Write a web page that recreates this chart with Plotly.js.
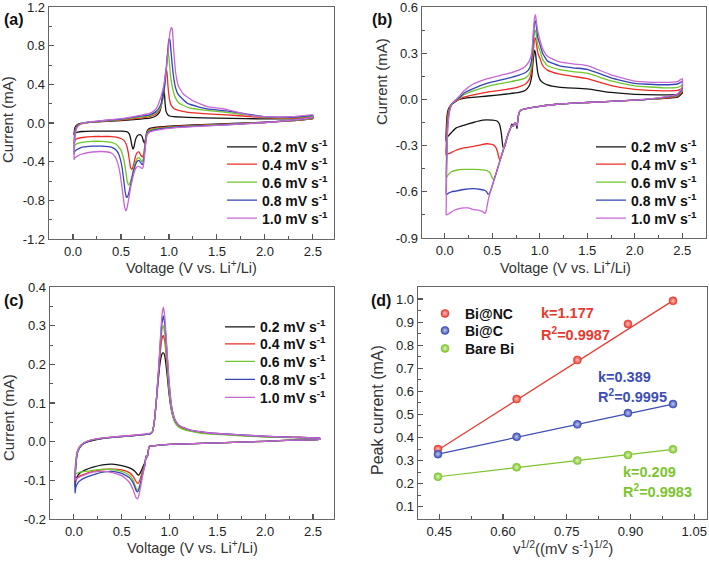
<!DOCTYPE html>
<html>
<head>
<meta charset="utf-8">
<script src="https://cdn.plot.ly/plotly-3.0.1.min.js"></script>
<style>html,body{margin:0;padding:0;background:#fff;}#chart{width:709px;height:561px;}</style>
</head>
<body>
<div id="chart"></div>
<script>
// ---------- common ----------
const rates = ['0.2', '0.4', '0.6', '0.8', '1.0'];
const rateColors = ['#141414', '#ee2b25', '#6fc62c', '#3545b6', '#c866d4'];

// ---------- panel (a) Bi@NC : cathodic (c) and anodic (a) sweeps ----------
const a02_cV = [2.5,2.3,2.0,1.6,1.2,1.0,0.85,0.79,0.77,0.755,0.745,0.735,0.72,0.70,0.68,0.66,0.645,0.635,0.625,0.615,0.60,0.585,0.56,0.5,0.4,0.3,0.2,0.1,0.05,0.02,0.01];
const a02_cI = [0.045,0.025,0.008,-0.008,-0.022,-0.032,-0.045,-0.06,-0.09,-0.17,-0.21,-0.19,-0.14,-0.12,-0.125,-0.15,-0.2,-0.25,-0.27,-0.24,-0.16,-0.11,-0.09,-0.085,-0.085,-0.085,-0.085,-0.088,-0.095,-0.105,-0.12];
const a02_aV = [0.012,0.02,0.04,0.08,0.15,0.3,0.5,0.7,0.8,0.86,0.9,0.92,0.935,0.945,0.952,0.96,0.97,0.985,1.0,1.05,1.2,1.5,1.8,2.1,2.4,2.5];
const a02_aI = [-0.1,-0.05,-0.02,-0.005,0.005,0.015,0.025,0.04,0.05,0.07,0.11,0.18,0.3,0.36,0.32,0.2,0.12,0.09,0.075,0.065,0.058,0.05,0.045,0.042,0.045,0.055];

const a04_cV = [2.5,2.3,2.0,1.6,1.2,1.0,0.85,0.79,0.77,0.755,0.74,0.73,0.72,0.705,0.69,0.675,0.66,0.645,0.63,0.615,0.6,0.59,0.575,0.555,0.53,0.5,0.45,0.4,0.3,0.2,0.1,0.05,0.02,0.01];
const a04_cI = [0.045,0.025,0.005,-0.012,-0.028,-0.04,-0.055,-0.07,-0.1,-0.18,-0.3,-0.34,-0.35,-0.33,-0.3,-0.3,-0.32,-0.37,-0.44,-0.48,-0.46,-0.4,-0.3,-0.22,-0.18,-0.16,-0.145,-0.14,-0.14,-0.14,-0.15,-0.16,-0.18,-0.21];
const a04_aV = [0.012,0.02,0.04,0.08,0.15,0.3,0.5,0.7,0.8,0.86,0.9,0.925,0.945,0.96,0.97,0.98,0.99,1.005,1.02,1.05,1.1,1.2,1.4,1.6,1.8,2.0,2.3,2.5];
const a04_aI = [-0.18,-0.08,-0.03,-0.01,0.005,0.018,0.03,0.05,0.065,0.09,0.13,0.2,0.33,0.48,0.56,0.52,0.38,0.25,0.19,0.15,0.13,0.11,0.095,0.085,0.07,0.055,0.05,0.06];

const a06_cV = [2.5,2.3,2.0,1.6,1.2,1.0,0.85,0.79,0.77,0.755,0.74,0.73,0.72,0.705,0.69,0.675,0.66,0.645,0.63,0.615,0.6,0.59,0.578,0.565,0.55,0.53,0.5,0.45,0.4,0.3,0.2,0.1,0.05,0.02,0.01];
const a06_cI = [0.05,0.028,0.005,-0.015,-0.032,-0.045,-0.062,-0.08,-0.11,-0.2,-0.33,-0.38,-0.4,-0.38,-0.36,-0.36,-0.38,-0.42,-0.48,-0.55,-0.6,-0.63,-0.64,-0.6,-0.5,-0.38,-0.28,-0.22,-0.2,-0.19,-0.19,-0.2,-0.21,-0.23,-0.26];
const a06_aV = [0.012,0.02,0.04,0.08,0.15,0.3,0.5,0.7,0.8,0.86,0.9,0.93,0.955,0.97,0.98,0.99,1.0,1.015,1.03,1.06,1.1,1.2,1.4,1.6,1.8,2.0,2.3,2.5];
const a06_aI = [-0.23,-0.1,-0.035,-0.01,0.005,0.02,0.035,0.06,0.075,0.1,0.14,0.22,0.38,0.55,0.68,0.73,0.68,0.5,0.4,0.28,0.21,0.16,0.13,0.11,0.085,0.06,0.055,0.07];

const a08_cV = [2.5,2.3,2.0,1.6,1.2,1.0,0.85,0.79,0.77,0.755,0.74,0.73,0.72,0.705,0.69,0.675,0.66,0.645,0.63,0.615,0.6,0.585,0.57,0.558,0.545,0.53,0.51,0.48,0.45,0.4,0.3,0.2,0.1,0.05,0.02,0.01];
const a08_cI = [0.055,0.03,0.005,-0.018,-0.036,-0.05,-0.07,-0.09,-0.12,-0.22,-0.36,-0.42,-0.43,-0.41,-0.39,-0.39,-0.41,-0.45,-0.5,-0.57,-0.64,-0.71,-0.76,-0.77,-0.72,-0.6,-0.45,-0.33,-0.28,-0.25,-0.24,-0.24,-0.25,-0.27,-0.29,-0.32];
const a08_aV = [0.012,0.02,0.04,0.08,0.15,0.3,0.5,0.7,0.8,0.86,0.9,0.93,0.955,0.975,0.99,1.0,1.01,1.025,1.045,1.07,1.1,1.2,1.4,1.6,1.8,2.0,2.3,2.5];
const a08_aI = [-0.28,-0.12,-0.04,-0.01,0.008,0.022,0.04,0.07,0.085,0.115,0.16,0.24,0.38,0.58,0.78,0.87,0.86,0.7,0.5,0.36,0.29,0.2,0.145,0.125,0.095,0.065,0.06,0.075];

const a10_cV = [2.5,2.3,2.0,1.6,1.2,1.0,0.85,0.79,0.77,0.755,0.74,0.73,0.72,0.705,0.69,0.675,0.66,0.645,0.63,0.615,0.6,0.585,0.565,0.552,0.54,0.525,0.51,0.49,0.465,0.44,0.4,0.3,0.2,0.1,0.05,0.02,0.01];
const a10_cI = [0.06,0.032,0.005,-0.02,-0.04,-0.055,-0.08,-0.1,-0.13,-0.24,-0.39,-0.46,-0.47,-0.46,-0.45,-0.45,-0.46,-0.49,-0.54,-0.6,-0.67,-0.76,-0.87,-0.91,-0.88,-0.78,-0.66,-0.52,-0.41,-0.35,-0.31,-0.295,-0.3,-0.32,-0.34,-0.36,-0.38];
const a10_aV = [0.012,0.02,0.04,0.08,0.15,0.3,0.5,0.7,0.8,0.86,0.9,0.94,0.97,0.995,1.01,1.025,1.035,1.05,1.07,1.1,1.15,1.25,1.4,1.55,1.7,1.85,2.0,2.3,2.5];
const a10_aI = [-0.34,-0.14,-0.05,-0.01,0.01,0.025,0.045,0.08,0.1,0.14,0.22,0.36,0.55,0.78,0.93,0.99,0.97,0.75,0.52,0.38,0.3,0.23,0.17,0.15,0.115,0.08,0.065,0.065,0.085];

// ---------- panel (b) Bi@C ----------
const b_cHeadV = [2.5,2.45,2.2,2.0,1.5,1.2,1.0,0.9,0.8,0.78,0.77,0.76,0.75,0.735,0.72,0.705,0.69,0.67,0.65];
const b02_cI0 = [0.04,0.015,0.003,-0.005,-0.02,-0.03,-0.045,-0.055,-0.07,-0.09,-0.13,-0.19,-0.16,-0.155,-0.17,-0.16,-0.19,-0.22,-0.26];
const b02_cV = [0.635,0.62,0.61,0.595,0.575,0.55,0.5,0.4,0.3,0.2,0.12,0.07,0.04,0.02,0.012];
const b02_cI = [-0.3,-0.32,-0.3,-0.22,-0.16,-0.14,-0.135,-0.135,-0.15,-0.168,-0.185,-0.215,-0.235,-0.25,-0.27];
const b02_aV = [0.015,0.025,0.04,0.07,0.1,0.15,0.25,0.45,0.65,0.78,0.85,0.89,0.915,0.93,0.945,0.955,0.965,0.98,1.0,1.03,1.08,1.2,1.5,1.75,2.0,2.3,2.45,2.5];
const b02_aI = [-0.2,-0.1,-0.06,-0.035,-0.02,0.0,0.012,0.022,0.035,0.045,0.06,0.09,0.15,0.25,0.32,0.3,0.24,0.17,0.13,0.11,0.095,0.08,0.068,0.045,0.033,0.03,0.033,0.045];

const b_aV = [0.015,0.02,0.03,0.05,0.08,0.12,0.15,0.2,0.3,0.45,0.65,0.78,0.85,0.89,0.915,0.93,0.945,0.955,0.965,0.98,1.0,1.03,1.08,1.2,1.35,1.5,1.75,2.0,2.3,2.45,2.5];

const b04_cI0 = [0.05,0.02,0.003,-0.005,-0.02,-0.03,-0.045,-0.055,-0.07,-0.09,-0.13,-0.17,-0.16,-0.155,-0.175,-0.17,-0.19,-0.22,-0.26];
const b04_cV = [0.63,0.61,0.595,0.582,0.57,0.555,0.535,0.51,0.48,0.44,0.38,0.3,0.2,0.1,0.05,0.025,0.012];
const b04_cI = [-0.3,-0.34,-0.37,-0.395,-0.38,-0.34,-0.31,-0.295,-0.29,-0.288,-0.295,-0.305,-0.315,-0.335,-0.35,-0.355,-0.36];
const b04_aI = [-0.3,-0.2,-0.1,-0.05,-0.025,-0.008,0.0,0.015,0.03,0.047,0.065,0.082,0.1,0.13,0.19,0.3,0.39,0.4,0.36,0.3,0.27,0.22,0.19,0.165,0.15,0.135,0.09,0.065,0.055,0.058,0.07];

const b06_cI0 = [0.06,0.025,0.004,-0.005,-0.02,-0.03,-0.045,-0.055,-0.07,-0.09,-0.13,-0.17,-0.16,-0.155,-0.175,-0.17,-0.19,-0.22,-0.26];
const b06_cV = [0.63,0.61,0.59,0.57,0.55,0.53,0.515,0.5,0.48,0.45,0.4,0.3,0.2,0.12,0.07,0.035,0.015];
const b06_cI = [-0.3,-0.34,-0.38,-0.42,-0.46,-0.5,-0.52,-0.51,-0.48,-0.465,-0.458,-0.455,-0.455,-0.46,-0.47,-0.49,-0.51];
const b06_aI = [-0.45,-0.3,-0.15,-0.06,-0.025,-0.005,0.005,0.03,0.055,0.085,0.11,0.126,0.14,0.165,0.22,0.34,0.44,0.45,0.41,0.35,0.32,0.26,0.22,0.195,0.18,0.17,0.12,0.088,0.075,0.078,0.09];

const b08_cI0 = [0.07,0.03,0.005,-0.005,-0.02,-0.03,-0.045,-0.055,-0.07,-0.09,-0.13,-0.17,-0.16,-0.155,-0.175,-0.17,-0.19,-0.22,-0.26];
const b08_cV = [0.63,0.61,0.59,0.57,0.55,0.53,0.51,0.49,0.47,0.455,0.44,0.42,0.38,0.3,0.2,0.12,0.07,0.035,0.015];
const b08_cI = [-0.3,-0.34,-0.38,-0.42,-0.46,-0.5,-0.54,-0.58,-0.61,-0.615,-0.6,-0.59,-0.585,-0.58,-0.585,-0.595,-0.6,-0.61,-0.62];
const b08_aI = [-0.55,-0.38,-0.18,-0.07,-0.025,-0.003,0.01,0.04,0.07,0.105,0.135,0.158,0.175,0.2,0.26,0.38,0.5,0.51,0.47,0.4,0.36,0.3,0.25,0.22,0.205,0.195,0.14,0.104,0.095,0.1,0.115];

const b10_cI0 = [0.08,0.035,0.006,-0.005,-0.02,-0.03,-0.045,-0.055,-0.07,-0.09,-0.13,-0.17,-0.16,-0.155,-0.175,-0.17,-0.19,-0.22,-0.26];
const b10_cV = [0.63,0.61,0.59,0.57,0.55,0.53,0.51,0.49,0.47,0.455,0.44,0.43,0.42,0.41,0.39,0.36,0.3,0.25,0.2,0.15,0.1,0.06,0.035,0.015];
const b10_cI = [-0.3,-0.34,-0.38,-0.42,-0.46,-0.5,-0.54,-0.58,-0.62,-0.66,-0.71,-0.735,-0.74,-0.735,-0.725,-0.72,-0.715,-0.705,-0.705,-0.71,-0.72,-0.735,-0.745,-0.75];
const b10_aI = [-0.7,-0.45,-0.2,-0.08,-0.025,0.0,0.02,0.055,0.1,0.135,0.165,0.19,0.215,0.25,0.3,0.42,0.53,0.55,0.5,0.44,0.39,0.33,0.28,0.245,0.23,0.22,0.16,0.118,0.11,0.115,0.135];

// ---------- panel (c) Bare Bi ----------
const c_cHeadV = [2.57,2.3,2.0,1.5,1.0,0.85,0.79,0.78,0.772,0.765,0.758,0.75];
const c_cHeadI = [0.006,0.004,0.001,-0.003,-0.007,-0.01,-0.012,-0.02,-0.035,-0.04,-0.036,-0.045];
const c_cV = [0.74,0.725,0.71,0.695,0.68,0.665,0.65,0.62,0.58,0.5,0.4,0.3,0.2,0.12,0.07,0.04,0.02,0.012];
const c02_cI = [-0.055,-0.063,-0.072,-0.08,-0.086,-0.085,-0.08,-0.073,-0.068,-0.062,-0.058,-0.06,-0.066,-0.073,-0.08,-0.088,-0.1,-0.116];
const c04_cI = [-0.06,-0.07,-0.082,-0.095,-0.105,-0.108,-0.103,-0.09,-0.08,-0.073,-0.071,-0.072,-0.077,-0.083,-0.088,-0.093,-0.1,-0.108];
const c06_cI = [-0.062,-0.075,-0.09,-0.107,-0.12,-0.125,-0.12,-0.1,-0.087,-0.077,-0.072,-0.072,-0.074,-0.077,-0.079,-0.081,-0.083,-0.086];
const c08_cI = [-0.063,-0.077,-0.093,-0.11,-0.124,-0.13,-0.126,-0.107,-0.093,-0.082,-0.077,-0.079,-0.086,-0.093,-0.1,-0.107,-0.118,-0.133];
const c10_cI = [-0.065,-0.08,-0.1,-0.12,-0.138,-0.148,-0.145,-0.125,-0.105,-0.088,-0.08,-0.077,-0.079,-0.085,-0.09,-0.094,-0.097,-0.1];
const c_aV = [0.015,0.025,0.04,0.07,0.1,0.15,0.25,0.4,0.6,0.75,0.8,0.82,0.84,0.86,0.875,0.89,0.905,0.92,0.935,0.95,0.97,0.99,1.01,1.03,1.06,1.1,1.2,1.4,1.7,2.0,2.3,2.57];
const c02_aI = [-0.08,-0.045,-0.025,-0.012,-0.005,0.0,0.006,0.011,0.015,0.019,0.021,0.025,0.05,0.1,0.14,0.18,0.21,0.226,0.23,0.222,0.185,0.135,0.095,0.07,0.05,0.04,0.03,0.022,0.017,0.013,0.011,0.009];
const c04_aI = [-0.075,-0.042,-0.022,-0.01,-0.004,0.002,0.008,0.012,0.016,0.019,0.021,0.025,0.05,0.1,0.145,0.19,0.235,0.265,0.275,0.26,0.21,0.15,0.105,0.075,0.05,0.04,0.03,0.022,0.017,0.013,0.011,0.009];
const c06_aI = [-0.06,-0.04,-0.022,-0.01,-0.004,0.002,0.007,0.011,0.015,0.018,0.02,0.024,0.05,0.1,0.15,0.2,0.25,0.288,0.3,0.28,0.22,0.15,0.1,0.07,0.048,0.037,0.028,0.02,0.016,0.012,0.01,0.008];
const c08_aI = [-0.085,-0.05,-0.026,-0.012,-0.005,0.001,0.007,0.011,0.015,0.019,0.021,0.025,0.05,0.1,0.15,0.2,0.26,0.305,0.325,0.305,0.245,0.17,0.115,0.08,0.055,0.042,0.031,0.023,0.018,0.014,0.011,0.009];
const c10_aI = [-0.075,-0.045,-0.024,-0.011,-0.004,0.002,0.008,0.012,0.016,0.02,0.022,0.026,0.05,0.1,0.15,0.205,0.27,0.325,0.348,0.325,0.25,0.175,0.115,0.08,0.055,0.042,0.031,0.023,0.018,0.014,0.011,0.009];

// ---------- panel (d) peak current vs sqrt(scan rate) ----------
const sqrtRate = [0.447, 0.632, 0.775, 0.894, 1.0];
const peakBiNC = [0.35, 0.567, 0.736, 0.892, 0.992];
const peakBiC = [0.328, 0.403, 0.457, 0.506, 0.545];
const peakBare = [0.23, 0.271, 0.30, 0.324, 0.349];
const fitX = [0.447, 1.0];
const fitBiNC = [0.346, 0.993];
const fitBiC = [0.328, 0.545];
const fitBare = [0.23, 0.349];
const fitTexts = [['k=1.177', 'R<sup>2</sup>=0.9987'], ['k=0.389', 'R<sup>2</sup>=0.9995'], ['k=0.209', 'R<sup>2</sup>=0.9983']];
const dNames = ['Bi@NC', 'Bi@C', 'Bare Bi'];
const dColors = ['#e8392f', '#3c4db4', '#7cc42c'];
const dLight = ['#ffc4bd', '#c0c8f2', '#ddf5bd'];

// tick labels
const a_yticks = ['-1.2', '-0.8', '-0.4', '0.0', '0.4', '0.8', '1.2'];
const b_yticks = ['-0.9', '-0.6', '-0.3', '0.0', '0.3', '0.6'];
const c_yticks = ['-0.2', '-0.1', '0.0', '0.1', '0.2', '0.3', '0.4'];
const v_xticks = ['0.0', '0.5', '1.0', '1.5', '2.0', '2.5'];
const d_yticks = ['0.1', '0.2', '0.3', '0.4', '0.5', '0.6', '0.7', '0.8', '0.9', '1.0'];
const d_xticks = ['0.45', '0.60', '0.75', '0.90', '1.05'];

// ---------- layout helpers ----------
const W = 709, H = 561;
const px = v => v / W, py = v => 1 - v / H;
const FONT = 'Liberation Sans, Arial, sans-serif';

// legend slots: one legend per entry so the row spacing follows the original
const legendRows = {
  a: {left: 222, rows: [146.7, 164, 182, 200, 218]},
  b: {left: 591, rows: [146.7, 164, 182, 200, 218]},
  c: {left: 220, rows: [326.7, 343.7, 361.3, 379.3, 397.3]},
  d: {left: 425, rows: [313.3, 330.3, 348.3]}
};
let legCount = 0;
function nextLegend() { legCount++; return legCount === 1 ? 'legend' : 'legend' + legCount; }

// ---------- build traces ----------
const traces = [];
const layoutLegends = {};
function addLegendSlot(panel, row) {
  const id = nextLegend();
  const p = legendRows[panel];
  layoutLegends[id] = {
    bgcolor: 'rgba(0,0,0,0)', borderwidth: 0, xanchor: 'left', yanchor: 'top',
    x: px(p.left), y: py(p.rows[row] - 15.5), itemclick: false,
    font: {family: FONT, size: 14, color: '#111', weight: 'bold'}
  };
  return id;
}
function loopTrace(cV, cI, aV, aI, i, xa, ya, panel) {
  return {
    type: 'scatter', mode: 'lines',
    x: cV.concat(aV, [cV[0]]), y: cI.concat(aI, [cI[0]]),
    xaxis: xa, yaxis: ya, legend: addLegendSlot(panel, i),
    name: rates[i] + ' mV s<sup>-1</sup>',
    line: {color: rateColors[i], width: 1.3, shape: 'spline', smoothing: 0.4},
    hoverinfo: 'skip'
  };
}
const aSets = [[a02_cV,a02_cI,a02_aV,a02_aI],[a04_cV,a04_cI,a04_aV,a04_aI],[a06_cV,a06_cI,a06_aV,a06_aI],[a08_cV,a08_cI,a08_aV,a08_aI],[a10_cV,a10_cI,a10_aV,a10_aI]];
aSets.forEach((s, i) => traces.push(loopTrace(s[0], s[1], s[2], s[3], i, 'x', 'y', 'a')));

const bSets = [
  [b_cHeadV.concat(b02_cV), b02_cI0.concat(b02_cI), b02_aV, b02_aI],
  [b_cHeadV.concat(b04_cV), b04_cI0.concat(b04_cI), b_aV, b04_aI],
  [b_cHeadV.concat(b06_cV), b06_cI0.concat(b06_cI), b_aV, b06_aI],
  [b_cHeadV.concat(b08_cV), b08_cI0.concat(b08_cI), b_aV, b08_aI],
  [b_cHeadV.concat(b10_cV), b10_cI0.concat(b10_cI), b_aV, b10_aI]
];
bSets.forEach((s, i) => traces.push(loopTrace(s[0], s[1], s[2], s[3], i, 'x2', 'y2', 'b')));

const cCath = [c02_cI, c04_cI, c06_cI, c08_cI, c10_cI];
const cAnod = [c02_aI, c04_aI, c06_aI, c08_aI, c10_aI];
cCath.forEach((ci, i) => traces.push(loopTrace(c_cHeadV.concat(c_cV), c_cHeadI.concat(ci), c_aV, cAnod[i], i, 'x3', 'y3', 'c')));

const fits = [fitBiNC, fitBiC, fitBare];
const peaks = [peakBiNC, peakBiC, peakBare];
fits.forEach((f, i) => traces.push({
  type: 'scatter', mode: 'lines', x: fitX, y: f, xaxis: 'x4', yaxis: 'y4',
  line: {color: dColors[i], width: 1.2}, showlegend: false, hoverinfo: 'skip'
}));
peaks.forEach((p, i) => traces.push({
  type: 'scatter', mode: 'markers', x: sqrtRate, y: p, xaxis: 'x4', yaxis: 'y4',
  legend: addLegendSlot('d', i), name: dNames[i],
  marker: {size: 8, color: dColors[i], line: {width: 0.6, color: dColors[i]}, gradient: {type: 'radial', color: dLight[i]}},
  hoverinfo: 'skip'
}));

// ---------- axes ----------
const tickFont = {family: FONT, size: 13, color: '#222'};
function axis(dom, anchor, range, labels, minorD) {
  return {
    domain: dom, anchor: anchor, range: range,
    tickmode: 'array', tickvals: labels.map(parseFloat), ticktext: labels,
    ticks: 'inside', ticklen: 5, tickwidth: 1.1, tickcolor: '#555',
    showline: true, linecolor: '#666', linewidth: 1.3, mirror: true,
    showgrid: false, zeroline: false, tickfont: tickFont, ticklabeloverflow: 'allow',
    minor: {ticks: 'inside', ticklen: 3, tickwidth: 1, tickcolor: '#555', dtick: minorD, tick0: 0, showgrid: false}
  };
}
const layout = Object.assign({
  width: W, height: H, margin: {l: 0, r: 0, t: 0, b: 0},
  paper_bgcolor: '#fff', plot_bgcolor: '#fff',
  font: {family: FONT, color: '#222'},
  xaxis: axis([px(49), px(334)], 'y', [-0.25, 2.72], v_xticks, 0.25),
  yaxis: axis([py(239), py(7)], 'x', [-1.2, 1.2], a_yticks, 0.2),
  xaxis2: axis([px(422), px(706)], 'y2', [-0.24, 2.75], v_xticks, 0.25),
  yaxis2: axis([py(238), py(7)], 'x2', [-0.9, 0.6], b_yticks, 0.15),
  xaxis3: axis([px(50), px(334)], 'y3', [-0.25, 2.72], v_xticks, 0.25),
  yaxis3: axis([py(519), py(287)], 'x3', [-0.2, 0.4], c_yticks, 0.05),
  xaxis4: axis([px(418), px(707)], 'y4', [0.40, 1.08], d_xticks, 0.075),
  yaxis4: axis([py(519), py(287)], 'x4', [0.047, 1.052], d_yticks, 0.05),
  showlegend: true,
  annotations: [],
  hovermode: false
}, layoutLegends);

// axis titles
const vTitle = 'Voltage (V vs. Li<sup>+</sup>/Li)';
const axisTitles = [
  [vTitle, 191.5, 267, 0, 14.5], [vTitle, 565, 267, 0, 14.5], [vTitle, 192, 547, 0, 14.5],
  ['v<sup>1/2</sup>((mV s<sup>-1</sup>)<sup>1/2</sup>)', 562.5, 547, 0, 15],
  ['Current (mA)', 8, 120, -90, 15], ['Current (mA)', 381, 82, -90, 15], ['Current (mA)', 8, 418, -90, 15],
  ['Peak current (mA)', 377, 410, -90, 16]
];
axisTitles.forEach(t => layout.annotations.push({
  text: t[0], xref: 'paper', yref: 'paper', x: px(t[1]), y: py(t[2]), xanchor: 'center', yanchor: 'middle',
  textangle: t[3], showarrow: false, font: {family: FONT, size: t[4], color: '#333'}
}));

const panelLabels = [['(a)', 2, 20], ['(b)', 370, 20], ['(c)', 2, 300], ['(d)', 369, 300]];
panelLabels.forEach(p => layout.annotations.push({
  text: p[0], xref: 'paper', yref: 'paper', x: px(p[1]), y: py(p[2]), xanchor: 'left', yanchor: 'middle',
  showarrow: false, font: {family: FONT, size: 16, color: '#111', weight: 'bold'}
}));
const fitPos = [[539, 313, 334], [596, 377, 396], [621, 472, 491]];
fitTexts.forEach((t, i) => {
  [0, 1].forEach(j => layout.annotations.push({
    text: t[j], xref: 'paper', yref: 'paper', x: px(fitPos[i][0]), y: py(fitPos[i][1 + j]),
    xanchor: 'left', yanchor: 'middle', showarrow: false,
    font: {family: FONT, size: 14.5, color: dColors[i], weight: 'bold'}
  }));
});

Plotly.newPlot('chart', traces, layout, {displayModeBar: false, staticPlot: true});
</script>
</body>
</html>
